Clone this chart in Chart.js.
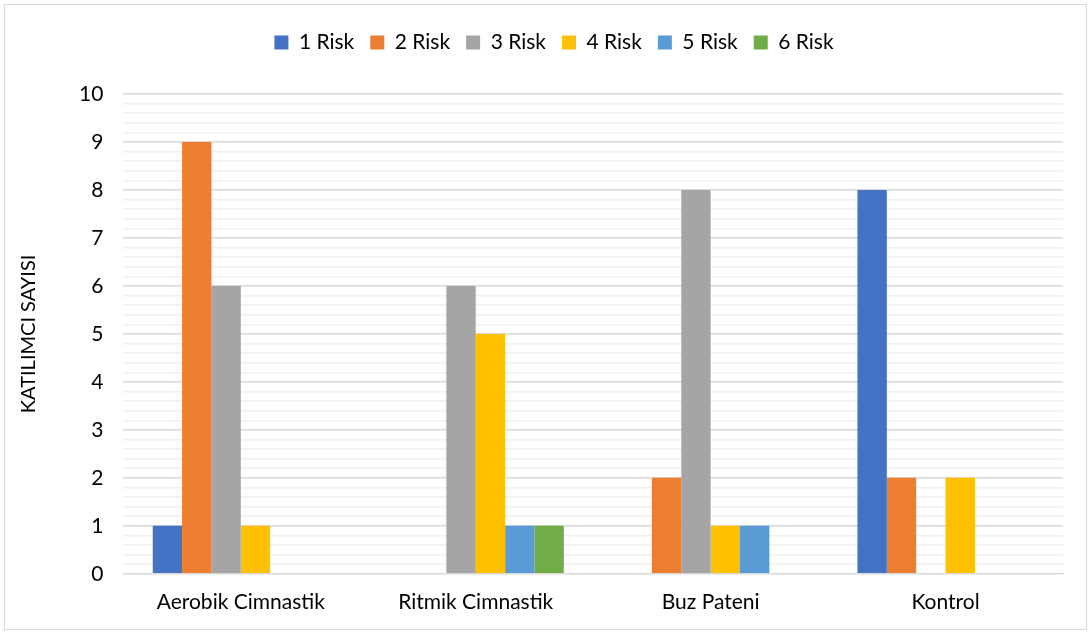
<!DOCTYPE html>
<html>
<head>
<meta charset="utf-8">
<script src="https://cdn.jsdelivr.net/npm/chart.js@4/dist/chart.umd.min.js"></script>
<style>
  html, body { margin: 0; padding: 0; background: #fff; }
  .chart-container {
    position: absolute; left: 4px; top: 4px;
    width: 1083px; height: 626px;
    border: 1px solid #d9d9d9; box-sizing: border-box;
  }
</style>
</head>
<body>
<div class="chart-container"><canvas id="chart"></canvas></div>
<script>
// Kategorien und Werte
const categories = ["Aerobik Cimnastik", "Ritmik Cimnastik", "Buz Pateni", "Kontrol"];
const seriesNames = ["1 Risk", "2 Risk", "3 Risk", "4 Risk", "5 Risk", "6 Risk"];
const risk1 = [1, 0, 0, 8];
const risk2 = [9, 0, 2, 2];
const risk3 = [6, 6, 8, 0];
const risk4 = [1, 5, 1, 2];
const risk5 = [0, 1, 1, 0];
const risk6 = [0, 1, 0, 0];
const colors = ["#4472c4", "#ed7d31", "#a5a5a5", "#ffc000", "#5b9bd5", "#70ad47"];

Chart.defaults.font.family = "Lato, 'Open Sans', sans-serif";
Chart.defaults.color = "#000";

// Abstand unter der Legende + Legende etwas nach rechts
const legendMargin = {
  id: "legendMargin",
  beforeInit(chart) {
    const fit = chart.legend.fit;
    chart.legend.fit = function () {
      fit.bind(chart.legend)();
      this.height += 31;
    };
  },
  afterLayout(chart) {
    chart.legend.left += 16;
    chart.legend.right += 16;
  },
};

const ctx = document.querySelector("#chart").getContext("2d");

new Chart(ctx, {
  type: "bar",
  data: {
    labels: categories,
    datasets: [risk1, risk2, risk3, risk4, risk5, risk6].map((d, i) => ({
      label: seriesNames[i],
      data: d,
      backgroundColor: colors[i],
      borderWidth: 0,
    })),
  },
  options: {
    responsive: true,
    maintainAspectRatio: false,
    animation: false,
    layout: { padding: { left: 8, right: 23, top: 11, bottom: 6 } },
    datasets: { bar: { barPercentage: 1, categoryPercentage: 0.75 } },
    scales: {
      x: {
        grid: { display: false },
        border: { color: "#d9d9d9" },
        ticks: { font: { size: 21 }, padding: 8 },
      },
      y: {
        min: 0,
        max: 10,
        border: { display: false },
        grid: {
          drawTicks: false,
          color: (c) => (Math.abs(c.tick.value - Math.round(c.tick.value)) < 1e-6 ? "#d9d9d9" : "#f0f0f0"),
          lineWidth: 1.5,
        },
        ticks: {
          stepSize: 0.2,
          autoSkip: false,
          padding: 20,
          font: { size: 21 },
          callback: (v) => (Math.abs(v - Math.round(v)) < 1e-6 ? Math.round(v) : ""),
        },
        title: { display: true, text: "KATILIMCI SAYISI", font: { size: 20 }, padding: { bottom: 18 } },
      },
    },
    plugins: {
      legend: {
        position: "top",
        labels: { boxWidth: 14, boxHeight: 14, font: { size: 21 }, padding: 16 },
      },
      tooltip: { enabled: false },
    },
  },
  plugins: [legendMargin],
});
</script>
</body>
</html>
